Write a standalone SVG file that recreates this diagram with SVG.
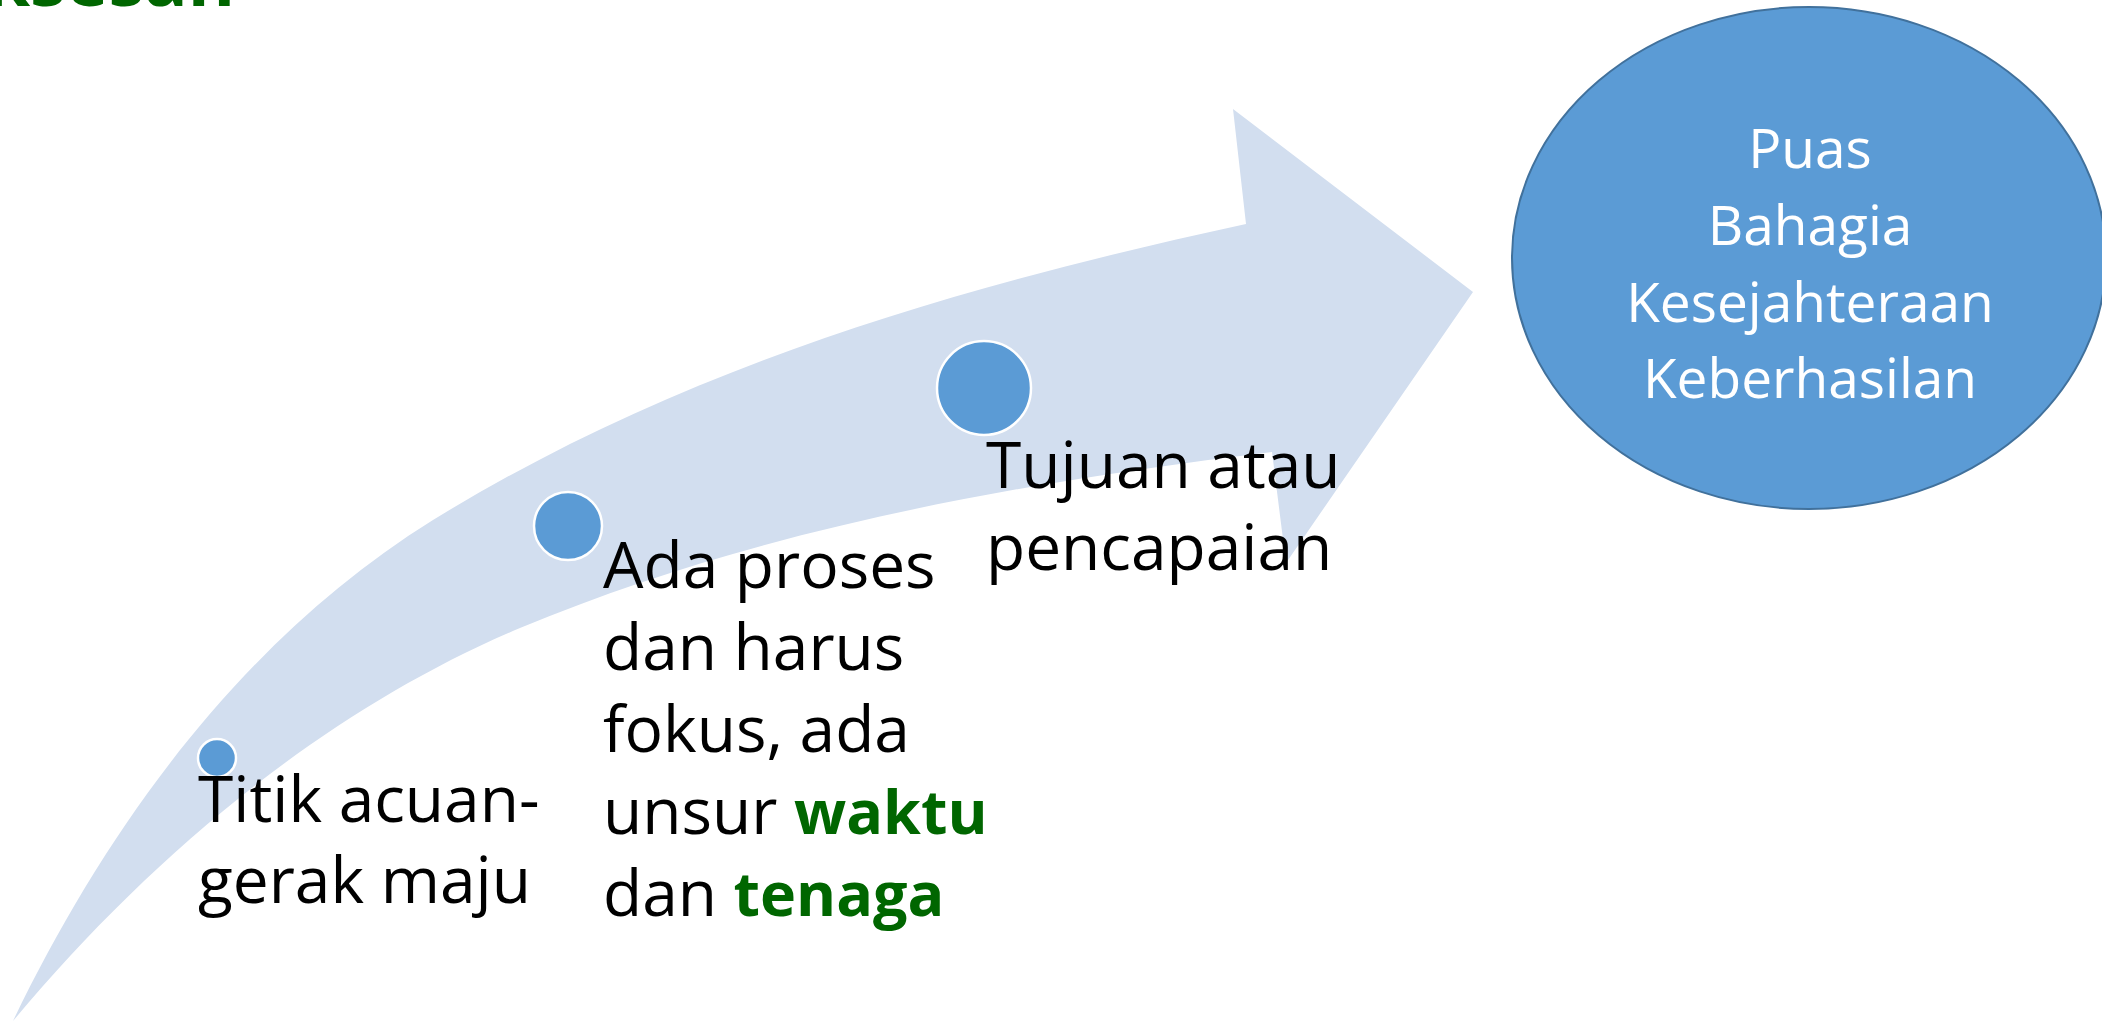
<svg xmlns="http://www.w3.org/2000/svg" width="2102" height="1023" viewBox="0 0 2102 1023">
<style>
.lbl{font-family:"Open Sans","Noto Sans","Liberation Sans",sans-serif;font-size:64px;fill:#000}
.hl{font-weight:bold;fill:#006600;font-size:61px}
.dot{fill:#5B9BD5;stroke:#ffffff;stroke-width:2.5}
.goal{fill:#5B9BD5;stroke:#41719C;stroke-width:2}
.goaltxt{font-family:"Open Sans","Noto Sans","Liberation Sans",sans-serif;font-size:55px;fill:#ffffff;text-anchor:middle}
</style>
<rect width="2102" height="1023" fill="#ffffff"/>
<text x="235" y="6" text-anchor="end" font-family="'Open Sans','Noto Sans',sans-serif" font-size="72" font-weight="bold" fill="#006600">ksesan</text>
<g id="arrow">
<path fill="#D2DEEF" d="M13,1021 C105,830 240,640 433,520 C680,368 955,287 1246,224 L1233,109 L1473,292 L1286,563 L1272,452 C1017,483 757,529 520,628 C323,711 150,857 13,1021 Z"/>
</g>
<g id="node-start">
<circle class="dot" cx="217" cy="758" r="19"/>
<text class="lbl"><tspan x="198" y="822">Titik acuan-</tspan><tspan x="198" y="903">gerak maju</tspan></text>
</g>
<g id="node-process">
<circle class="dot" cx="568" cy="526" r="34"/>
<text class="lbl"><tspan x="603" y="588">Ada proses</tspan><tspan x="603" y="670">dan harus</tspan><tspan x="603" y="752">fokus, ada</tspan><tspan x="603" y="834">unsur <tspan class="hl">waktu</tspan></tspan><tspan x="603" y="916">dan <tspan class="hl">tenaga</tspan></tspan></text>
</g>
<g id="node-goal">
<circle class="dot" cx="984" cy="388" r="47"/>
<text class="lbl"><tspan x="986" y="488">Tujuan atau</tspan><tspan x="986" y="570">pencapaian</tspan></text>
</g>
<g id="node-result">
<ellipse class="goal" cx="1809" cy="258" rx="297" ry="251"/>
<text class="goaltxt"><tspan x="1810" y="168">Puas</tspan><tspan x="1810" y="245">Bahagia</tspan><tspan x="1810" y="322">Kesejahteraan</tspan><tspan x="1810" y="398">Keberhasilan</tspan></text>
</g>
</svg>
